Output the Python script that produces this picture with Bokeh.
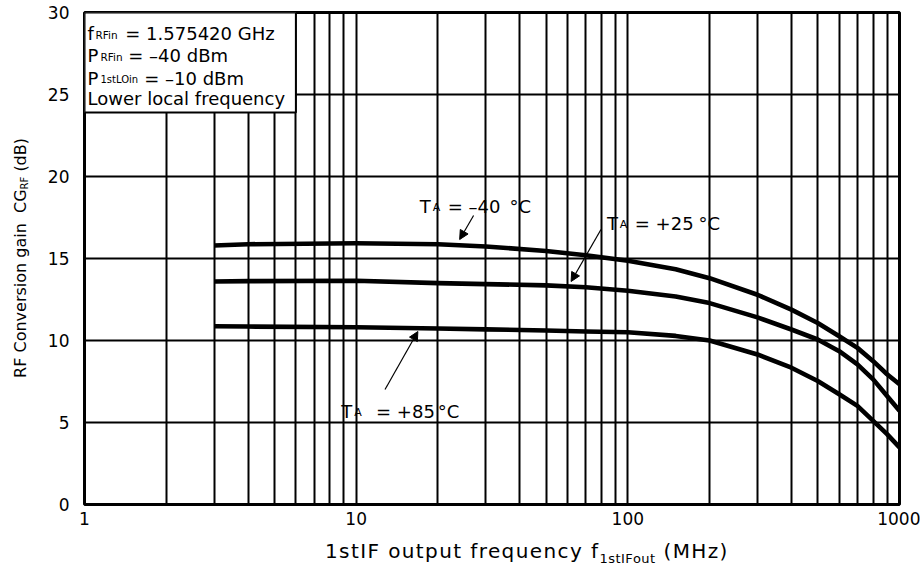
import math
from bokeh.plotting import figure
from bokeh.layouts import column, row
from bokeh.models import Range1d, FixedTicker, Label, Arrow, NormalHead, BoxAnnotation, Div
from bokeh.embed import file_html
from bokeh.resources import INLINE

# ---- data ----
freq_mhz = [3, 4, 10, 20, 30, 50, 70, 100, 150, 200, 300, 400, 500, 600, 700, 800, 900, 1000]
gain_m40 = [15.79, 15.87, 15.93, 15.87, 15.73, 15.46, 15.20, 14.86, 14.35, 13.80, 12.79, 11.88, 11.07, 10.26, 9.55, 8.74, 7.94, 7.33]
gain_p25 = [13.60, 13.62, 13.64, 13.50, 13.44, 13.36, 13.25, 13.03, 12.68, 12.28, 11.41, 10.67, 10.06, 9.35, 8.54, 7.63, 6.62, 5.71]
gain_p85 = [10.87, 10.85, 10.81, 10.73, 10.68, 10.61, 10.55, 10.50, 10.28, 10.00, 9.15, 8.34, 7.53, 6.72, 6.01, 5.10, 4.29, 3.48]
x_ticks = [1, 10, 100, 1000]
x_tick_labels = ["1", "10", "100", "1000"]
y_ticks = [0, 5, 10, 15, 20, 25, 30]

FONT = "DejaVu Sans"
YDIV_W = 44
TOTAL_W = 920
PW, PH = TOTAL_W - YDIV_W, 532
FL, FT, FR, FB = 80 - YDIV_W, 12, 899 - YDIV_W, 504  # frame edges in figure pixels

p = figure(width=PW, height=PH, x_axis_type="log",
           x_range=Range1d(1, 1000), y_range=Range1d(0, 30),
           output_backend="svg", toolbar_location=None,
           min_border_left=FL, min_border_top=FT,
           min_border_right=PW - FR, min_border_bottom=PH - FB, margin=0)
p.background_fill_color = "white"
p.border_fill_color = "white"
p.outline_line_color = "black"
p.outline_line_width = 3

for ax in (p.xaxis, p.yaxis):
    ax.axis_line_color = None
    ax.major_tick_line_color = None
    ax.minor_tick_line_color = None
    ax.major_tick_in = 0
    ax.major_tick_out = 0
    ax.minor_tick_in = 0
    ax.minor_tick_out = 0
    ax.major_label_text_font = FONT
    ax.major_label_text_font_size = "17px"
    ax.major_label_text_color = "black"
p.xaxis.ticker = FixedTicker(ticks=x_ticks, minor_ticks=[])
p.xaxis.major_label_overrides = {t: s for t, s in zip(x_ticks, x_tick_labels)}
p.xaxis.major_label_standoff = 7
p.yaxis.ticker = FixedTicker(ticks=y_ticks, minor_ticks=[])
p.yaxis.major_label_standoff = 15

minor_x = [m * 10 ** k for k in range(3) for m in range(1, 10)] + [1000]
p.xgrid.ticker = FixedTicker(ticks=minor_x)
p.xgrid.grid_line_color = "black"
p.xgrid.grid_line_width = 2
p.ygrid.ticker = FixedTicker(ticks=y_ticks)
p.ygrid.grid_line_color = "black"
p.ygrid.grid_line_width = 1.8

for g in (gain_m40, gain_p25, gain_p85):
    p.line(freq_mhz, g, line_width=4.6, line_color="black",
           line_join="round", line_cap="butt")

# page-pixel positions of the reference -> data coordinates (for annotations)
X0, XDEC, Y0, YU = 80.0, 273.0, 504.0, 16.4
def fx(px):
    return 10 ** ((px - X0) / XDEC)
def fy(py):
    return (Y0 - py) / YU

def lab(px, py, txt, size, angle=0.0):
    p.add_layout(Label(x=fx(px), y=fy(py), text=txt, text_font=FONT,
                       text_font_size=f"{size}px", text_color="black",
                       text_align="left", text_baseline="alphabetic",
                       angle=angle))

# condition box
p.add_layout(BoxAnnotation(left=1, right=6, bottom=fy(112), top=30,
                           fill_color="white", fill_alpha=1.0,
                           line_color="black", line_alpha=1.0, line_width=2))
lab(83, 33, "f", 18); lab(91, 34, "RFin", 10.5); lab(121, 33, "= 1.575420 GHz", 18)
lab(83, 55, "P", 18); lab(96, 56, "RFin", 10.5); lab(124, 55, "= \u201340 dBm", 18)
lab(83, 78, "P", 18); lab(96, 79, "1stLOin", 10); lab(140, 78, "= \u201310 dBm", 18)
lab(83, 98, "Lower local frequency", 18)

# curve annotations
lab(417, 206, "T", 18); lab(430, 207, "A", 11); lab(445, 206, "= \u201340", 18); lab(507, 206, "\u00b0C", 18)
lab(605, 223, "T", 18); lab(618, 224, "A", 11); lab(633, 223, "= +25", 18); lab(697, 223, "\u00b0C", 18)
lab(338, 411, "T", 18); lab(351, 412, "A", 11); lab(373, 411, "= +85", 18); lab(435, 411, "\u00b0C", 18)

for (x1, y1, x2, y2) in [(471, 215, 457, 239), (599, 229, 569, 281), (382, 389, 415, 331)]:
    p.add_layout(Arrow(end=NormalHead(size=9, fill_color="black", line_color="black", line_width=1),
                       x_start=fx(x1), y_start=fy(y1), x_end=fx(x2), y_end=fy(y2),
                       line_color="black", line_width=1.2))

# axis titles (HTML so that the subscripts are real text)
ytitle = Div(
    text=('<div style="height:492px; margin-top:12px; padding-left:11px; display:flex; '
          'align-items:center; justify-content:flex-start;">'
          '<span style="writing-mode:vertical-rl; transform:rotate(180deg); '
          "font-family:'DejaVu Sans'; font-size:16px; line-height:19px; color:black; white-space:nowrap;\">"
          'RF Conversion gain&nbsp;&nbsp;CG<sub style="font-size:10px;">RF</sub> (dB)</span></div>'),
    width=YDIV_W, height=PH, margin=0)
xtitle = Div(
    text=("<div style=\"padding-left:325px; padding-top:8px; font-family:'DejaVu Sans'; "
          'font-size:20px; line-height:22px; color:black; white-space:nowrap; letter-spacing:1.4px;">'
          '1stIF output frequency f<sub style="font-size:13px; letter-spacing:0.5px;">1stIFout</sub> (MHz)</div>'),
    width=TOTAL_W, height=36, margin=0)

layout = column(row(ytitle, p, spacing=0), xtitle, spacing=0)
open("out.html", "w").write(file_html(layout, INLINE))
